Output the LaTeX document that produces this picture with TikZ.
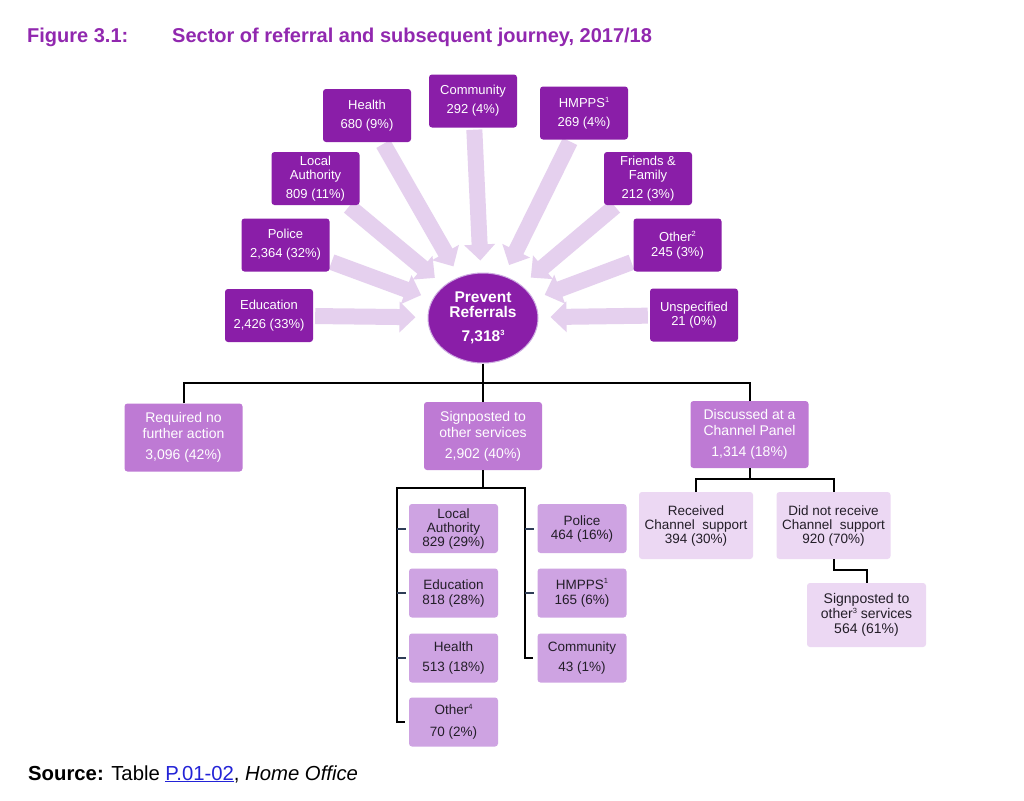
\documentclass[tikz,border=0pt]{standalone}
\usepackage{fontspec}
\setmainfont{Liberation Sans}
\usetikzlibrary{arrows.meta,shapes.geometric,backgrounds}
\definecolor{dpurple}{RGB}{138,30,168}
\definecolor{tpurple}{RGB}{145,40,175}
\definecolor{mpurple}{RGB}{190,122,212}
\definecolor{spurple}{RGB}{206,163,226}
\definecolor{lpurple}{RGB}{236,216,243}
\definecolor{arrowc}{RGB}{229,208,238}
\definecolor{tickc}{RGB}{45,60,85}
\definecolor{linkc}{RGB}{35,35,215}
\definecolor{darktext}{RGB}{35,30,40}
\newcommand{\supmark}[1]{\raisebox{0.4em}{\fontsize{7.5}{7.5}\selectfont #1}}
\tikzset{
  topbox/.style={rectangle, rounded corners=3pt, fill=dpurple, text=white,
    minimum width=88pt, minimum height=53pt, inner sep=0pt, align=center,
    font=\fontsize{13}{14}\selectfont},
  midbox/.style={rectangle, rounded corners=3pt, fill=mpurple, text=white,
    minimum width=118pt, minimum height=68pt, inner sep=0pt, align=center,
    font=\fontsize{14}{16}\selectfont},
  subbox/.style={rectangle, rounded corners=3pt, fill=spurple, text=darktext,
    minimum width=89pt, minimum height=49pt, inner sep=0pt, align=center,
    font=\fontsize{13.5}{14}\selectfont},
  lightbox/.style={rectangle, rounded corners=3pt, fill=lpurple, text=darktext,
    minimum width=114pt, minimum height=67pt, inner sep=0pt, align=center,
    font=\fontsize{13.5}{14}\selectfont},
  bigarrow/.style={line width=16pt, draw=arrowc,
    -{Triangle[length=16pt,width=30pt]}, shorten >=12pt, shorten <=2pt},
  tree/.style={line width=2pt, draw=black},
  tickln/.style={line width=2pt, draw=tickc},
}
\begin{document}
\begin{tikzpicture}[x=1pt,y=-1pt]
\useasboundingbox (0,0) rectangle (1024,800);

% title
\node[anchor=base west, inner sep=0pt, text=tpurple, font=\fontsize{20}{22}\selectfont\bfseries] (fig) at (27,42) {Figure 3.1:};
\node[anchor=base west, inner sep=0pt, text=tpurple, font=\fontsize{20}{22}\selectfont\bfseries] (ttl) at (172,42) {Sector of referral and subsequent journey, 2017/18};

% centre
\node[ellipse, fill=dpurple, draw={rgb,255:red,205;green,170;blue,225}, line width=1pt,
  minimum width=110pt, minimum height=90pt, inner sep=0pt, align=center, text=white,
  font=\fontsize{15.5}{15}\selectfont\bfseries] (ell) at (483,318)
  {Prevent\\Referrals\\[9pt]7,318\supmark{3}};

% top boxes
\node[topbox] (health) at (367,115.5) {Health\\[5pt]680 (9\%)};
\node[topbox] (comm) at (473,101) {Community\\[5pt]292 (4\%)};
\node[topbox] (hmpps) at (584,113) {HMPPS\supmark{1}\\[5pt]269 (4\%)};
\node[topbox] (la) at (315.5,178.5) {Local\\Authority\\[5pt]809 (11\%)};
\node[topbox] (ff) at (648,178.5) {Friends \&\\Family\\[5pt]212 (3\%)};
\node[topbox] (police) at (285.5,245) {Police\\[5pt]2,364 (32\%)};
\node[topbox] (other) at (677.5,245) {Other\supmark{2}\\[1pt]245 (3\%)};
\node[topbox] (edu) at (269,315.5) {Education\\[5pt]2,426 (33\%)};
\node[topbox] (unsp) at (694,315) {Unspecified\\21 (0\%)};

\begin{scope}[on background layer]
\fill[white] (0,0) rectangle (1024,800);
\foreach \b in {health,comm,hmpps,la,ff,police,other,edu,unsp}
  \draw[bigarrow] (\b) -- (ell);
\end{scope}

% second level
\node[midbox] (req) at (183.5,437.5) {Required no\\further action\\[5pt]3,096 (42\%)};
\node[midbox] (sign) at (483,436) {Signposted to\\other services\\[5pt]2,902 (40\%)};
\node[midbox, minimum height=67pt] (disc) at (749.5,434.5) {Discussed at a\\Channel Panel\\[5pt]1,314 (18\%)};

\coordinate (bar) at (483,383);
\draw[tree] (ell.south) -- (sign.north);
\draw[tree] (req.north) -- (req.north |- bar) -- (disc.north |- bar) -- (disc.north);

% signposted sub tree
\node[subbox] (sla) at (453.5,528.5) {Local\\Authority\\829 (29\%)};
\node[subbox] (sedu) at (453.5,593) {Education\\[1pt]818 (28\%)};
\node[subbox] (shea) at (453.5,658) {Health\\[6pt]513 (18\%)};
\node[subbox] (soth) at (453.5,722) {Other\supmark{4}\\[8pt]70 (2\%)};
\node[subbox] (spol) at (582,528.5) {Police\\464 (16\%)};
\node[subbox] (shmp) at (582,593) {HMPPS\supmark{1}\\[1pt]165 (6\%)};
\node[subbox] (scom) at (582,658) {Community\\[6pt]43 (1\%)};

\coordinate (sbar) at (483,488);
\coordinate (lbar) at (397,488);
\coordinate (rbar) at (525,488);
\draw[tree] (sign.south) -- (sbar);
\draw[tree] ([xshift=-4pt]soth.west) -- (lbar |- soth.west) -- (lbar) -- (rbar) -- (rbar |- scom.west) -- ([xshift=-4pt]scom.west);
\draw[tickln] (lbar |- sla.west) -- ([xshift=-3pt]sla.west);
\draw[tickln] (lbar |- sedu.west) -- ([xshift=-3pt]sedu.west);
\draw[tickln] (lbar |- shea.west) -- ([xshift=-3pt]shea.west);
\draw[tickln] (rbar |- spol.west) -- ([xshift=-3pt]spol.west);
\draw[tickln] (rbar |- shmp.west) -- ([xshift=-3pt]shmp.west);

% channel sub tree
\node[lightbox] (recv) at (696,525.5) {Received\\Channel\ \ support\\394 (30\%)};
\node[lightbox] (nrecv) at (833.5,525.5) {Did not receive\\Channel\ \ support\\920 (70\%)};
\node[lightbox, minimum width=119pt, minimum height=64pt, font=\fontsize{14}{15}\selectfont] (sig3) at (866.5,615) {Signposted to\\other\supmark{3} services\\564 (61\%)};

\coordinate (cbar) at (749.5,479);
\draw[tree] (disc.south) -- (cbar);
\draw[tree] (recv.north) -- (recv.north |- cbar) -- (nrecv.north |- cbar) -- (nrecv.north);
\coordinate (kink) at (833.5,570);
\draw[tree] (nrecv.south) -- (kink) -- (sig3.north |- kink) -- (sig3.north);

% source
\node[anchor=base west, inner sep=0pt, font=\fontsize{20.3}{22}\selectfont] (src) at (28,780)
  {\textbf{Source:} Table \textcolor{linkc}{\underline{P.01-02}}, \textit{Home Office}};
\end{tikzpicture}
\end{document}
